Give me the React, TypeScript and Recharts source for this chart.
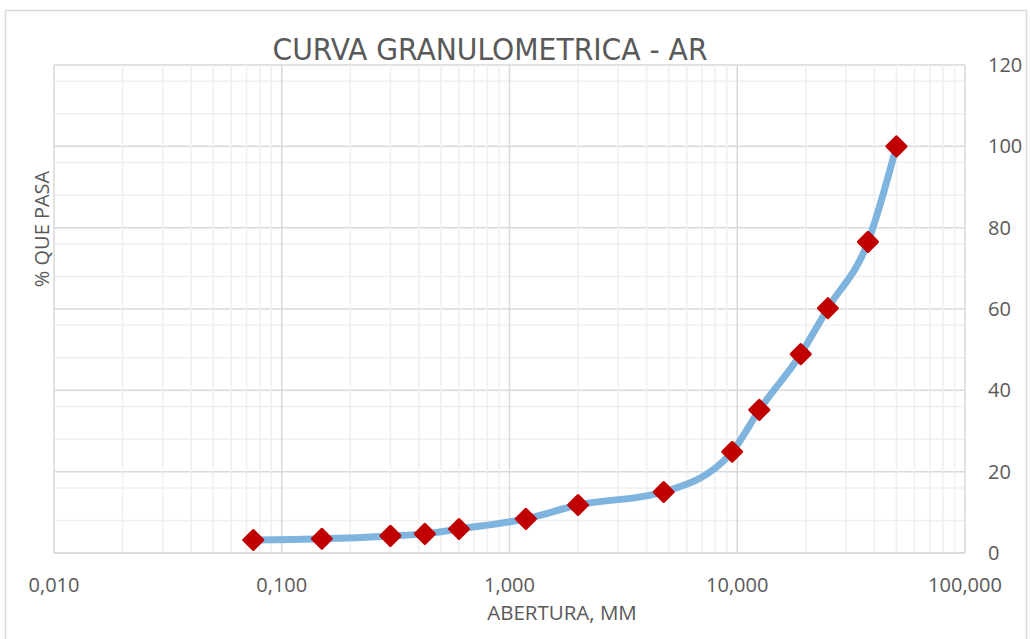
import React from 'react'
import { LineChart, Line, XAxis, YAxis, CartesianGrid, ReferenceLine } from 'recharts'

// sieve openings (mm) and % passing
const aberturas = [0.075, 0.15, 0.3, 0.425, 0.6, 1.18, 2.0, 4.75, 9.5, 12.5, 19, 25, 37.5, 50]
const pasa = [3.2, 3.5, 4.2, 4.7, 5.9, 8.4, 11.8, 15.0, 24.9, 35.2, 48.9, 60.2, 76.5, 100]

const xTicks = [0.01, 0.1, 1, 10, 100]
const yTicks = [0, 20, 40, 60, 80, 100, 120]
const xMinor = [0.01, 0.1, 1, 10].flatMap((d) => [2, 3, 4, 5, 6, 7, 8, 9].map((m) => +(m * d).toPrecision(3)))
const yMinor = [4, 8, 12, 16, 24, 28, 32, 36, 44, 48, 52, 56, 64, 68, 72, 76, 84, 88, 92, 96, 104, 108, 112, 116]

const data = aberturas.map((x, i) => ({ x, y: pasa[i] }))

const textColor = '#595959'
const font = '"Open Sans", "Noto Sans", sans-serif'

const fmtX = (v: number) => v.toFixed(3).replace('.', ',')

function Diamond(props: any) {
  const { cx, cy } = props
  if (cx == null || cy == null) return null
  const r = 9.5
  return (
    <polygon
      points={`${cx},${cy - r} ${cx + r},${cy} ${cx},${cy + r} ${cx - r},${cy}`}
      fill="#C00000"
      stroke="#C00000"
      strokeWidth={3}
      strokeLinejoin="round"
    />
  )
}

export default function App() {
  return (
    <div style={{ position: 'absolute', left: 0, top: 0, width: 1030, height: 639, background: '#fff', fontFamily: font }}>
      <LineChart width={1030} height={639} data={data} margin={{ top: 65, right: 15, bottom: 26, left: 54 }}>
        <CartesianGrid stroke="#efefef" strokeWidth={1.5} vertical={false} horizontalValues={yMinor} />
        {xMinor.map((v) => (
          <ReferenceLine key={v} x={v} stroke="#efefef" strokeWidth={1.5} />
        ))}
        <CartesianGrid stroke="#d9d9d9" strokeWidth={1.5} verticalValues={xTicks} horizontalValues={yTicks} />
        <XAxis
          dataKey="x"
          type="number"
          scale="log"
          domain={[0.01, 100]}
          ticks={xTicks}
          tickFormatter={fmtX}
          allowDataOverflow
          height={60}
          axisLine={{ stroke: '#d9d9d9', strokeWidth: 1.5 }}
          tickLine={false}
          tickMargin={19}
          tick={{ fill: textColor, fontSize: 20, fontFamily: font }}
        />
        <YAxis
          orientation="right"
          type="number"
          domain={[0, 120]}
          ticks={yTicks}
          width={50}
          axisLine={false}
          tickLine={false}
          tickMargin={17}
          tick={{ fill: textColor, fontSize: 20, fontFamily: font, textAnchor: 'start' }}
        />
        <Line
          dataKey="y"
          type="monotone"
          stroke="#7EB4DE"
          strokeWidth={7}
          dot={<Diamond />}
          activeDot={false}
          isAnimationActive={false}
        />
      </LineChart>
      <svg width={1030} height={639} style={{ position: 'absolute', left: 0, top: 0, pointerEvents: 'none' }}>
        <rect x={5.5} y={10.5} width={1021} height={640} fill="none" stroke="#d9d9d9" strokeWidth={1.5} />
        <text
          x={490}
          y={60}
          textAnchor="middle"
          fill={textColor}
          fontSize={31}
          fontFamily='"Liberation Sans Narrow", "DejaVu Sans Condensed", "Open Sans", sans-serif'
          textLength={435}
          lengthAdjust="spacingAndGlyphs"
        >
          CURVA GRANULOMETRICA - AR
        </text>
        <text x={562} y={620} textAnchor="middle" fill={textColor} fontSize={20.5} fontFamily={font}>
          ABERTURA, MM
        </text>
        <text
          x={0}
          y={0}
          transform="translate(49,229) rotate(-90)"
          textAnchor="middle"
          fill={textColor}
          fontSize={20}
          fontFamily={font}
        >
          % QUE PASA
        </text>
      </svg>
    </div>
  )
}
